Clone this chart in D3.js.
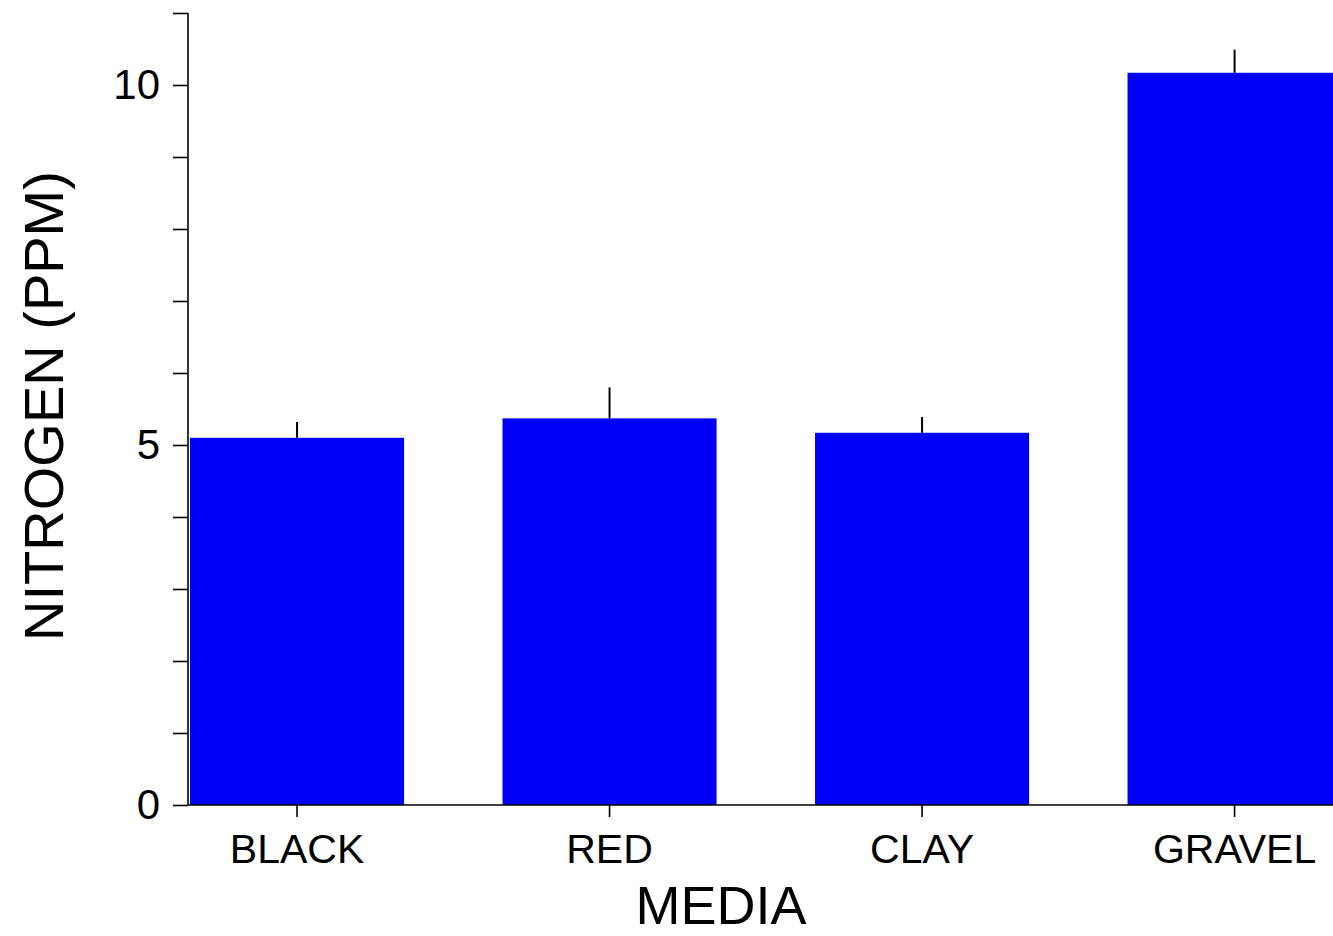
<!DOCTYPE html>
<html>
<head>
<meta charset="utf-8">
<script src="https://cdn.jsdelivr.net/npm/d3@7"></script>
<style>
  html, body { margin: 0; padding: 0; background: #fff; }
  svg { display: block; }
  text { font-family: "Liberation Sans", Arial, sans-serif; fill: #000; }
</style>
</head>
<body>
<svg id="chart" width="1333" height="936"></svg>
<script>
// Nitrogen concentration by growing media (mean with upper error bar)
const media = ["BLACK", "RED", "CLAY", "GRAVEL"];
const nitrogen = [5.10, 5.37, 5.17, 10.17];
const errorTop = [5.32, 5.80, 5.39, 10.49];
const yTicks = [0, 1, 2, 3, 4, 5, 6, 7, 8, 9, 10, 11];
const yLabels = [0, 5, 10];

const svg = d3.select("#chart");

const y = d3.scaleLinear().domain([0, 11]).range([805, 13]);
const x = d3.scaleBand().domain(media).range([190, 1341.6])
  .paddingInner(0.315).paddingOuter(0);

// bars
svg.append("g").selectAll("rect")
  .data(media)
  .join("rect")
  .attr("x", d => x(d))
  .attr("width", x.bandwidth())
  .attr("y", (d, i) => y(nitrogen[i]))
  .attr("height", (d, i) => y(0) - y(nitrogen[i]))
  .attr("fill", "#0000f8");

// upper error bars
svg.append("g").selectAll("line")
  .data(media)
  .join("line")
  .attr("x1", d => x(d) + x.bandwidth() / 2)
  .attr("x2", d => x(d) + x.bandwidth() / 2)
  .attr("y1", (d, i) => y(nitrogen[i]))
  .attr("y2", (d, i) => y(errorTop[i]))
  .attr("stroke", "#000")
  .attr("stroke-width", 2);

// y axis
const yAxis = d3.axisLeft(y)
  .tickValues(yTicks)
  .tickSize(15)
  .tickPadding(13)
  .tickFormat(d => yLabels.includes(d) ? d3.format("d")(d) : "");
const gy = svg.append("g").attr("transform", "translate(188,0)").call(yAxis);
gy.select(".domain").attr("d", `M0,${y(11)}V${y(0)}`).attr("stroke-width", 1.6);
gy.selectAll(".tick line").attr("stroke-width", 1.6);
gy.selectAll(".tick text").attr("font-size", 42).style("font-family", "'Liberation Sans', Arial, sans-serif");

// x axis
const xAxis = d3.axisBottom(x).tickSize(12).tickPadding(17).tickSizeOuter(0);
const gx = svg.append("g").attr("transform", `translate(0,${y(0)})`).call(xAxis);
gx.select(".domain").attr("d", "M188,0H1333").attr("stroke-width", 1.6);
gx.selectAll(".tick line").attr("stroke-width", 1.6);
gx.selectAll(".tick text").attr("font-size", 41).attr("dy", "0.71em")
  .style("font-family", "'Liberation Sans', Arial, sans-serif");

// axis titles
svg.append("text")
  .attr("x", 721).attr("y", 924)
  .attr("text-anchor", "middle")
  .attr("font-size", 54)
  .text("MEDIA");

svg.append("text")
  .attr("transform", "translate(63,406) rotate(-90)")
  .attr("text-anchor", "middle")
  .attr("font-size", 56)
  .text("NITROGEN (PPM)");
</script>
</body>
</html>
